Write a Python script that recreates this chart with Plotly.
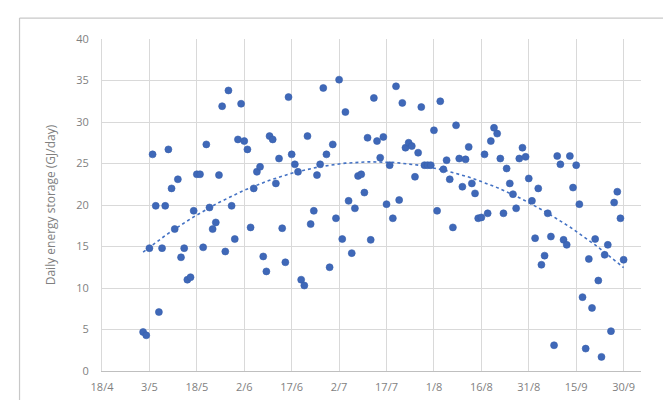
import numpy as np
import pandas as pd
import plotly.graph_objects as go

# Daily energy storage (GJ/day), one value per day from 1 May to 30 Sep
start_date = "2019-05-01"
storage = [
    4.7, 4.3, 14.8, 26.1, 19.9, 7.1, 14.8, 19.9, 26.7, 22.0,
    17.1, 23.1, 13.7, 14.8, 11.0, 11.3, 19.3, 23.7, 23.7, 14.9,
    27.3, 19.7, 17.1, 17.9, 23.6, 31.9, 14.4, 33.8, 19.9, 15.9,
    27.9, 32.2, 27.7, 26.7, 17.3, 22.0, 24.0, 24.6, 13.8, 12.0,
    28.3, 27.9, 22.6, 25.6, 17.2, 13.1, 33.0, 26.1, 24.9, 24.0,
    11.0, 10.3, 28.3, 17.7, 19.3, 23.6, 24.9, 34.1, 26.1, 12.5,
    27.3, 18.4, 35.1, 15.9, 31.2, 20.5, 14.2, 19.6, 23.5, 23.7,
    21.5, 28.1, 15.8, 32.9, 27.7, 25.7, 28.2, 20.1, 24.8, 18.4,
    34.3, 20.6, 32.3, 26.9, 27.5, 27.1, 23.4, 26.3, 31.8, 24.8,
    24.8, 24.8, 29.0, 19.3, 32.5, 24.3, 25.4, 23.1, 17.3, 29.6,
    25.6, 22.2, 25.5, 27.0, 22.6, 21.4, 18.4, 18.5, 26.1, 19.0,
    27.7, 29.3, 28.6, 25.6, 19.0, 24.4, 22.6, 21.3, 19.6, 25.6,
    26.9, 25.8, 23.2, 20.5, 16.0, 22.0, 12.8, 13.9, 19.0, 16.2,
    3.1, 25.9, 24.9, 15.8, 15.2, 25.9, 22.1, 24.8, 20.1, 8.9,
    2.7, 13.5, 7.6, 15.9, 10.9, 1.7, 14.0, 15.2, 4.8, 20.3,
    21.6, 18.4, 13.4,
]
tick_dates = ["2019-04-18", "2019-05-03", "2019-05-18", "2019-06-02", "2019-06-17",
              "2019-07-02", "2019-07-17", "2019-08-01", "2019-08-16", "2019-08-31",
              "2019-09-15", "2019-09-30"]
tick_labels = ["18/4", "3/5", "18/5", "2/6", "17/6", "2/7", "17/7", "1/8",
               "16/8", "31/8", "15/9", "30/9"]
y_ticks = [0, 5, 10, 15, 20, 25, 30, 35, 40]

dates = pd.date_range(start_date, periods=len(storage), freq="D")

# Polynomial (order 2) trendline, as in the spreadsheet chart
t = np.arange(len(storage), dtype=float)
coef = np.polyfit(t, np.array(storage), 2)
trend = np.polyval(coef, t)

fig = go.Figure()
fig.add_trace(go.Scatter(
    x=dates, y=trend, mode="lines",
    line=dict(color="#4472C4", width=1.6, dash="dot"),
    hoverinfo="skip", showlegend=False,
))
fig.add_trace(go.Scatter(
    x=dates, y=storage, mode="markers",
    marker=dict(color="#3F68B8", size=7, line=dict(color="#3860AC", width=0.6)),
    showlegend=False,
))

font = dict(family="Open Sans, Liberation Sans, sans-serif", size=11, color="#7F7F7F")
title_font = dict(family="Open Sans, Liberation Sans, sans-serif", size=12, color="#7F7F7F")

border = dict(color="#C8C8C8", width=1.2)
fig.update_layout(
    width=671, height=400,
    margin=dict(l=94, r=38, t=31, b=37),
    paper_bgcolor="white", plot_bgcolor="white",
    font=font,
    xaxis=dict(
        type="date",
        range=["2019-04-18", "2019-10-05 12:00"],
        tickvals=tick_dates, ticktext=tick_labels,
        showgrid=True, gridcolor="#D9D9D9", gridwidth=1,
        showline=True, linecolor="#BFBFBF", linewidth=1,
        zeroline=False, ticks="", ticklabelstandoff=6,
        tickfont=font,
    ),
    yaxis=dict(
        range=[0, 40], tickvals=y_ticks,
        showgrid=True, gridcolor="#D9D9D9", gridwidth=1,
        showline=True, linecolor="#D9D9D9", linewidth=1,
        zeroline=False, ticks="", ticklabelstandoff=10,
        tickfont=font,
        title=dict(text="Daily energy storage (GJ/day)", font=title_font, standoff=18),
    ),
    shapes=[
        dict(type="line", xref="paper", yref="paper", x0=-0.153, x1=1.0464, y0=1.063, y1=1.063, line=border),
        dict(type="line", xref="paper", yref="paper", x0=-0.153, x1=-0.153, y0=-0.105, y1=1.063, line=border),
        dict(type="line", xref="paper", yref="paper", x0=1.0464, x1=1.0464, y0=-0.105, y1=1.063, line=border),
    ],
)

fig.write_html("out.html")
